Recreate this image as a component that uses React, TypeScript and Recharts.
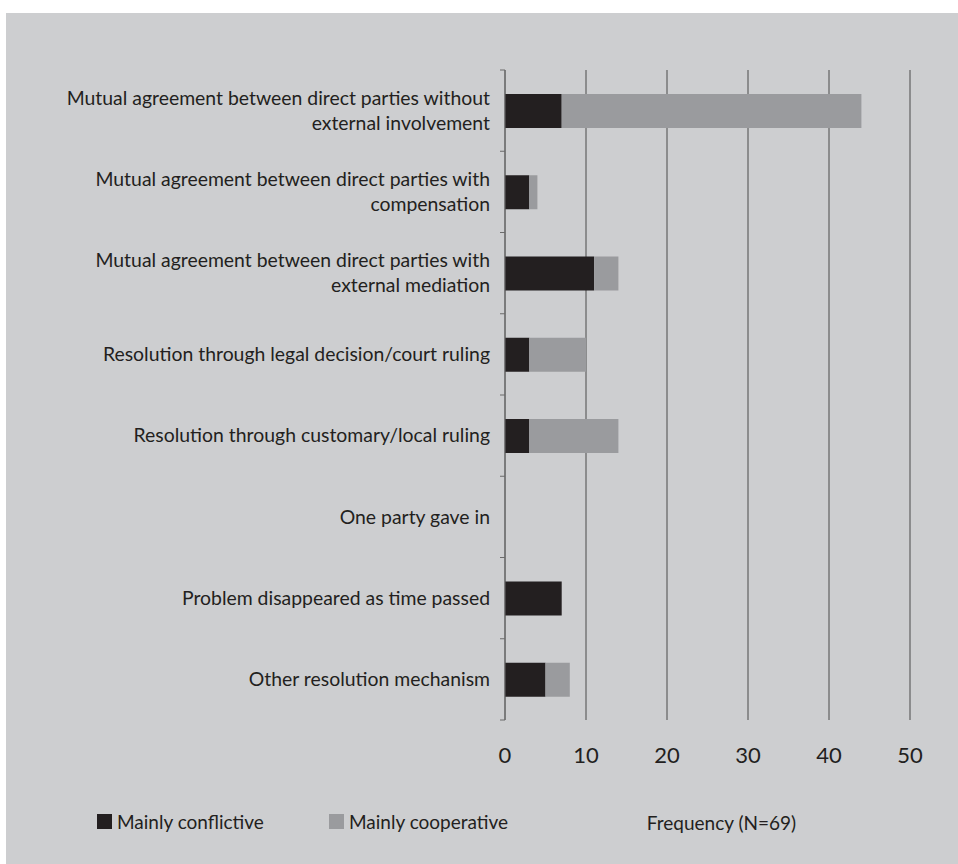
import { BarChart, Bar, XAxis, YAxis, CartesianGrid, Legend } from 'recharts';

const categories = [
  'Mutual agreement between direct parties without\nexternal involvement',
  'Mutual agreement between direct parties with\ncompensation',
  'Mutual agreement between direct parties with\nexternal mediation',
  'Resolution through legal decision/court ruling',
  'Resolution through customary/local ruling',
  'One party gave in',
  'Problem disappeared as time passed',
  'Other resolution mechanism',
];
const conflictive = [7, 3, 11, 3, 3, 0, 7, 5];
const cooperative = [37, 1, 3, 7, 11, 0, 0, 3];
const xTicks = [0, 10, 20, 30, 40, 50];

const data = categories.map((name, i) => ({
  name,
  conflictive: conflictive[i],
  cooperative: cooperative[i],
}));

const W = 952;
const H = 851;
const TOP = 57;
const PLOT_BOTTOM = 707;
const BAND = (PLOT_BOTTOM - TOP) / categories.length;
const FONT = 'Lato, "Open Sans", sans-serif';
const TEXT = '#231f20';
const BLACK = '#231f20';
const GREY = '#9a9b9e';
const BG = '#cdced0';

function CategoryTick(props: any) {
  const { x, y, payload, index } = props;
  const lines = String(payload.value).split('\n');
  const axisX = x + 15;
  const lineH = 25;
  const first = -((lines.length - 1) * lineH) / 2 + 6.8;
  return (
    <g>
      <line x1={axisX - 5} x2={axisX} y1={y - BAND / 2} y2={y - BAND / 2} stroke="#6b6b6b" />
      {index === categories.length - 1 && (
        <line x1={axisX - 5} x2={axisX} y1={y + BAND / 2} y2={y + BAND / 2} stroke="#6b6b6b" />
      )}
      <text x={x} y={y} textAnchor="end" fill={TEXT} fontSize={19.4} fontFamily={FONT}>
        {lines.map((l, k) => (
          <tspan key={k} x={x} dy={k === 0 ? first : lineH}>
            {l}
          </tspan>
        ))}
      </text>
    </g>
  );
}

function LegendContent() {
  const item = (left: number, color: string, label: string) => (
    <div style={{ position: 'absolute', left, top: 0, display: 'flex', alignItems: 'center' }}>
      <span style={{ width: 15, height: 15, background: color, marginRight: 5, display: 'inline-block' }} />
      <span style={{ fontSize: 19, color: TEXT, fontFamily: FONT }}>{label}</span>
    </div>
  );
  return (
    <div style={{ position: 'relative', height: 24 }}>
      {item(91, BLACK, 'Mainly conflictive')}
      {item(323, GREY, 'Mainly cooperative')}
    </div>
  );
}

export default function App() {
  return (
    <div style={{ position: 'absolute', left: 6, top: 13, width: W, height: H, background: BG }}>
      <BarChart
        width={W}
        height={H}
        data={data}
        layout="vertical"
        margin={{ top: TOP, right: 48, left: 0, bottom: 0 }}
        barSize={34}
      >
        <CartesianGrid horizontal={false} stroke="#4a4a4a" strokeOpacity={1} />
        <XAxis
          type="number"
          domain={[0, 50]}
          ticks={xTicks}
          axisLine={false}
          tickLine={false}
          tickMargin={21}
          height={H - PLOT_BOTTOM}
          tick={{ fill: TEXT, fontSize: 22, fontFamily: FONT }}
          label={{
            value: 'Frequency (N=69)',
            position: 'insideBottom',
            offset: 34,
            dx: 14,
            fill: TEXT,
            fontSize: 19,
            fontFamily: FONT,
          }}
        />
        <YAxis
          type="category"
          dataKey="name"
          width={499}
          tickLine={false}
          tickSize={5}
          tickMargin={10}
          axisLine={{ stroke: '#6b6b6b' }}
          interval={0}
          tick={<CategoryTick />}
        />
        <Legend
          layout="horizontal"
          verticalAlign="middle"
          align="center"
          content={<LegendContent />}
          wrapperStyle={{ position: 'absolute', left: 0, top: 797, width: W }}
        />
        <Bar dataKey="conflictive" stackId="a" fill={BLACK} isAnimationActive={false} />
        <Bar dataKey="cooperative" stackId="a" fill={GREY} isAnimationActive={false} />
      </BarChart>
    </div>
  );
}
